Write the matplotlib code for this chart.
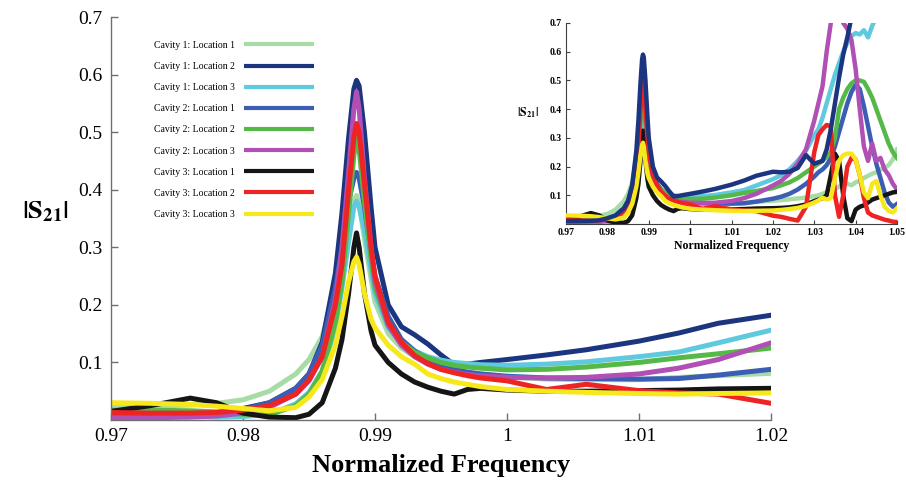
import numpy as np
import matplotlib
matplotlib.use("Agg")
import matplotlib.pyplot as plt

plt.rcParams["font.family"] = ["Liberation Serif", "DejaVu Serif"]
plt.rcParams["mathtext.fontset"] = "stix"

# Normalized frequency grid: resonance region (main plot) and upper band (inset)
F_MAIN = [0.970, 0.973, 0.976, 0.978, 0.980, 0.982, 0.984, 0.985, 0.986, 0.987,
          0.9875, 0.988, 0.9884, 0.9886, 0.9888, 0.9892, 0.9897, 0.990, 0.991, 0.992,
          0.993, 0.994, 0.995, 0.996, 0.997, 0.998, 1.000, 1.003, 1.006, 1.010,
          1.013, 1.016, 1.020]
F_EXT = [1.022, 1.024, 1.026, 1.028, 1.030, 1.031, 1.032, 1.033, 1.034, 1.035,
         1.036, 1.037, 1.038, 1.039, 1.040, 1.041, 1.042, 1.043, 1.044, 1.045,
         1.046, 1.047, 1.048, 1.049, 1.050]
nan = np.nan

# |S21| for each cavity / probe location
c1_loc1 = [0.023, 0.024, 0.026, 0.029, 0.035, 0.050, 0.080, 0.105, 0.145, 0.230,
           0.285, 0.340, 0.380, 0.390, 0.375, 0.315, 0.245, 0.205, 0.150, 0.125,
           0.110, 0.100, 0.092, 0.087, 0.083, 0.080, 0.075, 0.071, 0.070, 0.070,
           0.074, 0.077, 0.081,
           0.083, 0.086, 0.089, 0.092, 0.097, 0.100, 0.105, 0.110, 0.115, 0.122,
           0.130, 0.138, 0.140, 0.135, 0.145, 0.150, 0.160, 0.168, 0.175, 0.180,
           0.190, 0.195, 0.205, 0.225, 0.260]
c1_loc2 = [0.010, 0.010, 0.011, 0.013, 0.020, 0.030, 0.055, 0.080, 0.135, 0.255,
           0.360, 0.490, 0.575, 0.590, 0.580, 0.500, 0.370, 0.300, 0.200, 0.162,
           0.148, 0.132, 0.113, 0.096, 0.097, 0.100, 0.105, 0.113, 0.122, 0.137,
           0.151, 0.168, 0.182,
           0.180, 0.182, 0.195, 0.240, 0.210, 0.215, 0.220, 0.260, 0.330, 0.420,
           0.510, 0.590, 0.650, 0.720, nan, nan, nan, nan, nan, nan,
           nan, nan, nan, nan, nan]
c1_loc3 = [0.006, 0.006, 0.006, 0.005, 0.006, 0.010, 0.028, 0.048, 0.085, 0.160,
           0.230, 0.310, 0.370, 0.380, 0.370, 0.330, 0.260, 0.220, 0.160, 0.135,
           0.120, 0.110, 0.104, 0.100, 0.098, 0.096, 0.095, 0.097, 0.101, 0.110,
           0.118, 0.134, 0.156,
           0.170, 0.190, 0.220, 0.255, 0.310, 0.330, 0.370, 0.420, 0.470, 0.520,
           0.560, 0.600, 0.630, 0.655, 0.665, 0.660, 0.675, 0.650, 0.690, 0.720,
           nan, nan, nan, nan, nan]
c2_loc1 = [0.007, 0.007, 0.008, 0.010, 0.018, 0.030, 0.055, 0.080, 0.130, 0.230,
           0.300, 0.380, 0.420, 0.430, 0.420, 0.370, 0.290, 0.250, 0.180, 0.140,
           0.120, 0.105, 0.095, 0.088, 0.083, 0.080, 0.076, 0.073, 0.072, 0.071,
           0.072, 0.078, 0.088,
           0.095, 0.105, 0.120, 0.140, 0.165, 0.180, 0.190, 0.205, 0.230, 0.270,
           0.320, 0.370, 0.420, 0.460, 0.485, 0.470, 0.410, 0.340, 0.270, 0.210,
           0.160, 0.110, 0.075, 0.060, 0.070]
c2_loc2 = [0.017, 0.017, 0.016, 0.014, 0.010, 0.009, 0.025, 0.045, 0.085, 0.170,
           0.240, 0.360, 0.460, 0.490, 0.470, 0.380, 0.280, 0.230, 0.165, 0.135,
           0.118, 0.108, 0.100, 0.095, 0.092, 0.090, 0.087, 0.088, 0.092, 0.100,
           0.108, 0.115, 0.125,
           0.135, 0.145, 0.160, 0.180, 0.200, 0.210, 0.220, 0.235, 0.250, 0.300,
           0.400, 0.440, 0.470, 0.490, 0.500, 0.500, 0.495, 0.470, 0.440, 0.400,
           0.360, 0.320, 0.280, 0.250, 0.230]
c2_loc3 = [0.004, 0.004, 0.005, 0.007, 0.012, 0.022, 0.045, 0.068, 0.110, 0.210,
           0.300, 0.430, 0.540, 0.570, 0.540, 0.420, 0.300, 0.240, 0.165, 0.130,
           0.110, 0.097, 0.088, 0.083, 0.079, 0.077, 0.074, 0.073, 0.074, 0.080,
           0.090, 0.105, 0.134,
           0.150, 0.175, 0.210, 0.260, 0.360, 0.420, 0.480, 0.600, 0.700, 0.850,
           0.800, 0.700, 0.680, 0.640, 0.540, 0.400, 0.270, 0.220, 0.280, 0.220,
           0.230, 0.190, 0.170, 0.140, 0.120]
c3_loc1 = [0.015, 0.025, 0.038, 0.030, 0.012, 0.005, 0.004, 0.010, 0.030, 0.090,
           0.140, 0.220, 0.300, 0.325, 0.300, 0.220, 0.155, 0.130, 0.100, 0.080,
           0.066, 0.057, 0.050, 0.045, 0.053, 0.055, 0.052, 0.050, 0.050, 0.051,
           0.052, 0.054, 0.055,
           0.056, 0.058, 0.062, 0.068, 0.080, 0.085, 0.090, 0.100, 0.170, 0.245,
           0.220, 0.100, 0.020, 0.010, 0.050, 0.060, 0.065, 0.075, 0.085, 0.090,
           0.095, 0.100, 0.105, 0.110, 0.112]
c3_loc2 = [0.013, 0.012, 0.012, 0.013, 0.017, 0.025, 0.045, 0.070, 0.110, 0.200,
           0.270, 0.400, 0.490, 0.515, 0.500, 0.410, 0.300, 0.250, 0.170, 0.135,
           0.112, 0.098, 0.088, 0.082, 0.077, 0.073, 0.068, 0.053, 0.062, 0.051,
           0.047, 0.045, 0.029,
           0.025, 0.018, 0.012, 0.060, 0.250, 0.310, 0.330, 0.345, 0.340, 0.100,
           0.025, 0.100, 0.200, 0.230, 0.225, 0.170, 0.090, 0.040, 0.030, 0.025,
           0.020, 0.015, 0.012, 0.008, 0.007]
c3_loc3 = [0.030, 0.029, 0.027, 0.024, 0.020, 0.016, 0.022, 0.040, 0.070, 0.130,
           0.180, 0.240, 0.275, 0.283, 0.270, 0.220, 0.175, 0.160, 0.130, 0.110,
           0.097, 0.080, 0.072, 0.066, 0.062, 0.058, 0.053, 0.050, 0.048, 0.046,
           0.045, 0.046, 0.047,
           0.049, 0.052, 0.056, 0.063, 0.075, 0.082, 0.092, 0.085, 0.090, 0.160,
           0.220, 0.240, 0.245, 0.245, 0.225, 0.170, 0.110, 0.090, 0.140, 0.150,
           0.100, 0.060, 0.045, 0.040, 0.055]

labels = ["Cavity 1: Location 1", "Cavity 1: Location 2", "Cavity 1: Location 3",
          "Cavity 2: Location 1", "Cavity 2: Location 2", "Cavity 2: Location 3",
          "Cavity 3: Location 1", "Cavity 3: Location 2", "Cavity 3: Location 3"]
series = [c1_loc1, c1_loc2, c1_loc3, c2_loc1, c2_loc2, c2_loc3, c3_loc1, c3_loc2, c3_loc3]
colors = ["#a8dca6", "#1b3580", "#5fc9de", "#3b5db4", "#55b947",
          "#b04fb4", "#151515", "#ee2424", "#f7e81b"]

X_TICKS_MAIN = [0.97, 0.98, 0.99, 1.00, 1.01, 1.02]
X_LABELS_MAIN = ["0.97", "0.98", "0.99", "1", "1.01", "1.02"]
X_TICKS_INSET = [0.97, 0.98, 0.99, 1.00, 1.01, 1.02, 1.03, 1.04, 1.05]
X_LABELS_INSET = ["0.97", "0.98", "0.99", "1", "1.01", "1.02", "1.03", "1.04", "1.05"]
Y_TICKS = [0.1, 0.2, 0.3, 0.4, 0.5, 0.6, 0.7]
Y_LABELS = ["0.1", "0.2", "0.3", "0.4", "0.5", "0.6", "0.7"]

freq = np.array(F_MAIN + F_EXT)

fig = plt.figure(figsize=(9.06, 4.8), dpi=100)
ax = fig.add_axes([111 / 906, 60 / 480, 660 / 906, 403 / 480])

handles = []
for y, c, lab in zip(series, colors, labels):
    h, = ax.plot(freq, y, color=c, lw=3.6, label=lab, solid_capstyle="butt",
                 solid_joinstyle="round")
    handles.append(h)

ax.set_xlim(0.97, 1.02)
ax.set_ylim(0, 0.7)
ax.set_xticks(X_TICKS_MAIN)
ax.set_xticklabels(X_LABELS_MAIN)
ax.set_yticks(Y_TICKS)
ax.set_yticklabels(Y_LABELS)
for s in ("top", "right"):
    ax.spines[s].set_visible(False)
for s in ("left", "bottom"):
    ax.spines[s].set_color("#707070")
    ax.spines[s].set_linewidth(1.0)
ax.tick_params(direction="in", length=5, width=1, color="#707070",
               labelsize=14, pad=6)
ax.set_xlabel("Normalized Frequency", fontsize=19, fontweight="bold", labelpad=6)
fig.text(45 / 906, 1 - 212 / 480, r"$\mathbf{|S_{21}|}$", fontsize=19,
         ha="center", va="center")

leg = ax.legend(handles=handles, loc="upper left", bbox_to_anchor=(145 / 906, 1 - 32 / 480),
                bbox_transform=fig.transFigure, frameon=False, markerfirst=False,
                fontsize=7, handlelength=7.3, labelspacing=1.25, handletextpad=0.9)
for ln in leg.get_lines():
    ln.set_linewidth(3.0)

# Inset: wider band showing higher-order resonances
axi = fig.add_axes([566 / 906, 1 - 224 / 480, 331 / 906, 201 / 480])
order = [0, 2, 3, 4, 5, 6, 7, 8, 1]
for z, i in enumerate(order):
    axi.plot(freq, series[i], color=colors[i], lw=3.2, zorder=2 + z,
             solid_joinstyle="round")
axi.set_xlim(0.97, 1.05)
axi.set_ylim(0, 0.7)
axi.set_xticks(X_TICKS_INSET)
axi.set_xticklabels(X_LABELS_INSET)
axi.set_yticks(Y_TICKS)
axi.set_yticklabels(Y_LABELS)
for s in ("top", "right"):
    axi.spines[s].set_visible(False)
for s in ("left", "bottom"):
    axi.spines[s].set_color("#404040")
    axi.spines[s].set_linewidth(0.8)
axi.tick_params(direction="in", length=3, width=0.8, color="#404040",
                labelsize=7, pad=3)
for t in axi.get_xticklabels() + axi.get_yticklabels():
    t.set_fontweight("bold")
axi.set_xlabel("Normalized Frequency", fontsize=8.5, fontweight="bold", labelpad=2)
fig.text(528 / 906, 1 - 113 / 480, r"$\mathbf{|S_{21}|}$", fontsize=8.5,
         ha="center", va="center")

fig.savefig("out.png", dpi=100)
